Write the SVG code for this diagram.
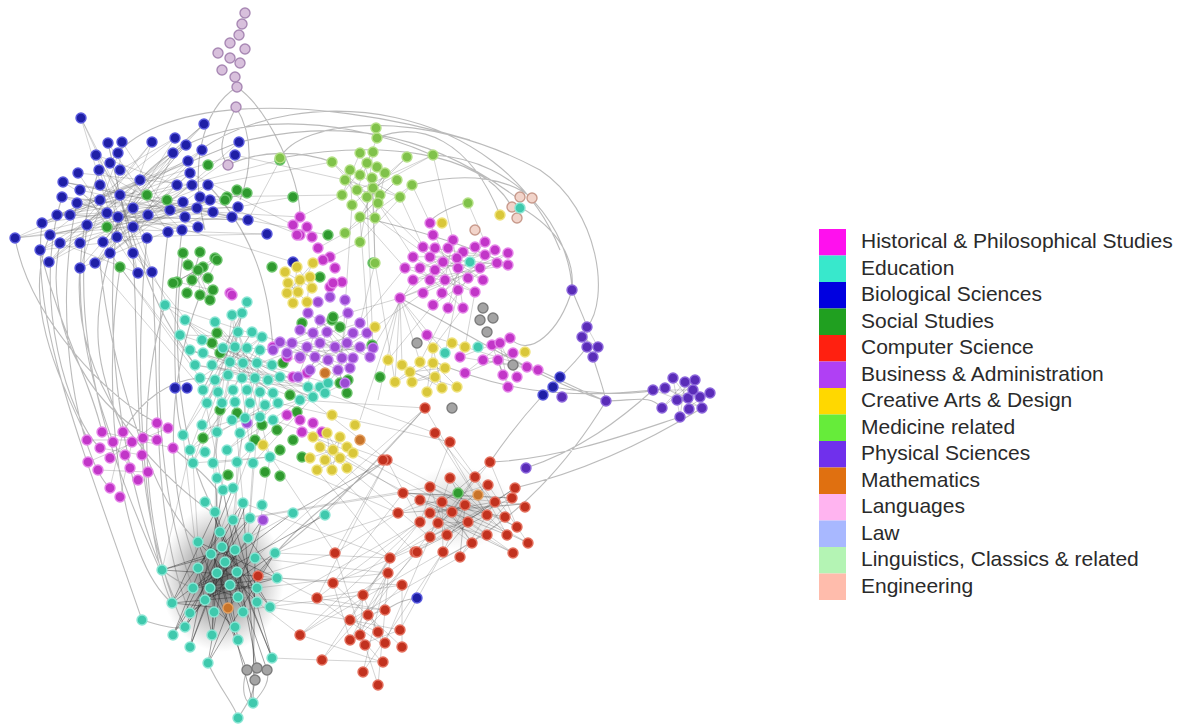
<svg xmlns="http://www.w3.org/2000/svg" width="1180" height="728" viewBox="0 0 1180 728">
<style>
circle{r:5px;stroke-width:1.4px}
.H{fill:#c236c8;stroke:#e482e8}.E{fill:#3fc9ad;stroke:#8ae6d4}.B{fill:#1f1fa6;stroke:#5a5ade}.S{fill:#2f9a2f;stroke:#6cc46c}
.C{fill:#c2321f;stroke:#e4705e}.U{fill:#9c4ad4;stroke:#c488ee}.Y{fill:#d9c73a;stroke:#efe27a}.M{fill:#80c24a;stroke:#b4e086}
.P{fill:#5a2cb8;stroke:#8c66dc}.O{fill:#c8742a;stroke:#e4a060}.L{fill:#d8c0dc;stroke:#a888b4}.N{fill:#f2d4ca;stroke:#c89a8c}.G{fill:#a4a4a4;stroke:#7c7c7c}
.e{fill:none;stroke:#6a6a6a;stroke-width:.7;opacity:.42}
.d{fill:none;stroke:#2a2a2a;stroke-width:.8;opacity:.55}
.a{fill:none;stroke:#8e8e8e;stroke-width:1.1;opacity:.6}
.lt{font-family:"Liberation Sans",Arial,sans-serif;font-size:21px;fill:#2a2a2a}
</style>
<defs>
<radialGradient id="hz"><stop offset="0" stop-color="#1a1a1a" stop-opacity=".7"/><stop offset=".6" stop-color="#333" stop-opacity=".3"/><stop offset="1" stop-color="#555" stop-opacity="0"/></radialGradient>
<radialGradient id="hl"><stop offset="0" stop-color="#444" stop-opacity=".28"/><stop offset="1" stop-color="#777" stop-opacity="0"/></radialGradient>
</defs>
<g id="connectors">
<ellipse cx="222" cy="578" rx="62" ry="74" fill="url(#hz)"/>
<ellipse cx="458" cy="508" rx="55" ry="42" fill="url(#hl)"/>
<path class="a" d="M236,107C225,130 215,150 228,165M236,107C250,130 255,160 240,200M237,87C200,110 190,170 205,230M237,87C270,110 300,180 300,215M228,165C260,150 300,150 332,162M140,180C200,110 330,110 432,155M240,142C330,120 420,125 520,200M280,158C380,140 480,150 512,207M433,155C520,160 570,230 572,290M520,207C560,230 575,260 572,290M572,290C580,310 585,320 587,327M593,357C600,380 604,390 606,401M606,401C640,400 650,395 662,408M526,468C580,450 620,420 653,390M490,462C560,460 640,430 680,417M515,488C590,470 650,440 702,408M440,560C520,520 570,460 606,401M430,360C500,390 560,400 653,390M400,298C480,340 540,380 606,401M543,395C520,420 505,440 490,462M553,387C600,395 640,395 665,388M538,370C560,380 590,395 606,401M60,243C40,330 100,420 160,440M100,263C110,360 150,500 198,542M133,253C140,360 130,500 175,600M152,272C160,380 150,520 190,613M120,267C100,400 120,560 172,603M80,268C70,380 150,470 213,513M183,253C170,350 180,450 215,512M200,295C160,400 170,500 198,568M165,305C130,420 150,560 185,627M173,448C200,470 210,480 217,490M162,570C175,580 185,585 193,588M142,620C160,625 175,630 185,627M253,703C265,690 270,680 267,670M238,718C250,700 255,690 255,678M123,432C140,400 170,380 200,378M417,598C400,600 395,605 385,610M468,202C440,210 430,220 430,223M412,185C470,170 510,180 532,198M377,138C420,120 470,140 500,215M360,217C420,230 480,250 508,265M572,290C560,330 530,360 510,338M587,347C570,370 555,380 543,395M387,460C330,500 290,530 258,576M425,408C380,460 320,520 275,553M280,158C300,120 420,105 540,170C600,210 610,300 587,327M110,163C150,100 300,90 470,140M200,150C300,80 500,100 560,250M50,235C20,300 60,380 88,440M40,250C60,330 90,380 102,432M15,238C30,320 110,400 157,423M247,670C240,690 245,705 253,703M208,663C220,690 235,705 238,718M62,197C30,300 70,420 100,448M77,203C50,320 80,460 110,488M87,225C70,360 120,480 160,570M118,217C100,350 130,500 162,570M147,238C130,400 150,560 172,603M168,232C150,380 160,500 193,588M182,230C170,330 175,420 183,435M99,170C60,280 90,380 113,442M42,223C30,320 80,440 142,620M120,195C150,300 170,330 195,365M110,253C90,330 95,360 123,432M208,185C260,240 270,300 273,350"/>
<path class="e" d="M81,118L120,195L42,223L183,202L63,182L232,217L15,238L140,180L100,263L239,142L57,215L177,185L96,155L147,238L40,250L208,185L110,253L122,142L80,268L213,212L62,197L168,232L108,143L133,253L78,173L192,185L49,262L152,142L87,225L204,124L118,217L248,220L70,215L198,227L99,170L138,273L60,243L186,145L103,242L210,200L50,235L175,138L120,170L182,230L77,203L235,155L117,237L190,173L95,263L202,150L133,208L152,272L80,190L170,210M110,215L81,118M110,215L15,238M110,215L49,262M110,215L204,124M110,215L238,207M110,215L152,272M140,230L63,182M140,230L267,234M140,230L95,263M140,230L173,153M90,200L42,223M90,200L188,161M90,200L138,273M160,200L248,220M160,200L57,215M160,200L122,142M120,210L293,262M130,200L280,160M150,220L247,193M100,230L227,197M15,238L213,212M42,223L239,142M40,250L202,150M49,262L204,124M57,215L238,207M62,197L248,220M63,182L232,217M80,268L186,145M95,263L175,138M110,253L152,142M138,273L108,143M152,272L81,118M133,253L96,155M117,237L267,234M80,243L210,200M60,243L197,208M87,225L192,185M70,215L190,173M50,235L183,202M103,242L173,153M238,207L293,197M248,220L280,160M232,217L328,235M213,212L300,217M200,197L342,195M208,185L332,162M235,155L345,180M210,200L300,235M190,173L293,225"/>
<path class="e" d="M183,253L213,290L177,282L215,258L187,293L200,252L192,280L203,267L173,283L217,260L208,278L188,265L210,300L198,270L200,295M377,138L357,190L332,162L378,203L360,153L342,195L373,152L367,197L407,157L352,205L350,170L400,197L345,180L375,218L385,173L360,217L397,180L345,233L412,185L360,242L372,178L375,263L373,188L433,155L357,190L380,195M430,223L458,290L423,247L485,255L413,257L475,292L405,268L497,263L400,298L508,253L433,305L485,242L420,268L463,308L453,240L442,293L495,250L413,280L508,265L430,257L483,280L435,248L468,278L448,308L463,252L423,293L480,268L443,262L400,298M653,390L702,408L665,388L688,398L673,378L680,417L685,382L662,408L695,380L677,400L710,393L687,408L693,390L653,390M587,327L598,347L582,337L593,357L587,347L587,327M308,313L370,357L300,330L353,358L320,320L298,377L360,323L273,350L348,313L338,370L280,342L373,348L287,353L367,333L310,370L327,332L350,368L292,343L345,383L313,333L342,358L307,347L360,347L315,357M285,272L312,288L297,267L293,303L313,263L287,293L310,277L307,302L288,283L298,292L300,280M402,365L442,388L420,362L395,382L433,363L457,387L410,372L445,368L412,382L435,377L427,392L433,348L442,388M427,335L538,370L460,357L510,338L465,373L513,353L483,360L527,367L492,345L503,375L498,360L508,387L500,343L517,377M412,185L430,223M400,197L423,247M378,203L413,257M468,203L485,242M433,155L453,240M400,298L348,313M405,268L360,323M413,280L373,348M423,293L375,327M433,305L388,360M448,308L420,362M463,308L433,348M458,290L445,353M475,292L465,347M273,350L247,348M280,342L252,332M287,353L260,363M300,357L272,365M298,377L280,377M310,370L308,387M338,370L328,383M345,383L325,393"/>
<path class="e" d="M165,305L273,393L202,340L325,393L190,350L280,377L195,365L308,387L200,378L262,337L203,390L247,302L207,403L252,332L183,435L238,332L193,463L270,457L213,463L242,313L217,432L278,403L227,450L320,387L237,462L255,378L190,450L265,405L232,315L250,447L260,350L202,430L300,400L212,365L313,397L253,463M280,377L387,460M300,400L425,408M325,393L435,433M313,437L403,493M340,458L420,500M353,453L442,502M347,468L430,537M332,470L415,552M317,470L390,558M263,445L335,553M273,420L387,460M270,457L398,513M278,403L450,442M360,242L330,257M375,263L360,323M360,217L405,268M375,218L430,257M378,203L423,247M345,233L318,248M342,195L300,217M367,197L373,348M360,217L370,357M375,263L395,382M352,205L340,382M400,298L402,365M400,298L420,362M400,298L433,348M400,298L395,382M400,298L445,353M400,298L378,400M400,298L360,420M133,253L202,340M152,272L190,350M120,267L195,365M110,253L200,378M95,263L203,390M102,432L173,448M123,432L110,488M87,440L157,440M88,462L168,428M98,470L148,472M100,448L142,455M113,442L138,480M132,442L120,497M157,423L110,458M313,437L353,453L317,470L340,437L332,470L327,433L347,468L320,447L340,458L333,450L310,458M165,305L262,337L180,335L272,365L185,320L268,380L215,322L255,378M202,340L278,403M190,350L313,397M242,313L203,390M247,302L190,450M232,315L213,463M238,332L270,457M262,337L193,463M212,343L308,387M220,353L328,383M217,333L300,400M203,390L223,490M218,392L215,512M233,390L243,503M247,390L233,520M260,392L250,518M273,393L220,532M193,463L198,542M213,463L222,547M237,462L235,550M253,463L248,538M270,457L255,558M227,450L213,553M190,450L162,570M183,435L198,568"/>
<path class="d" d="M223,490L190,647L243,503L172,603L215,512L272,658L233,520L173,635L250,518L198,568L220,532L257,602L198,542L277,578L248,538L185,627L222,547L270,607L235,550L162,570L213,553L253,703L255,558L190,613L275,553L208,663L225,562L238,640L198,568L212,635L217,573L243,610L237,572L193,588L277,578L205,598L230,585L257,588L210,588L238,597L172,603L212,607L235,627L213,553M217,490L212,635M233,488L173,635M245,507L190,647M213,513L272,658M293,513L172,603M325,515L193,588M262,520L185,627M263,520L208,663M258,576L162,570M228,608L275,553M247,670L198,542M257,668L223,490M267,670L213,513M255,678L243,503"/>
<path class="e" d="M258,576L335,553M258,576L333,583M277,578L317,598M270,607L350,620M257,602L300,635M272,658L322,660M243,610L363,595M255,558L387,573M275,553L390,558M277,578L402,585M238,597L385,610M248,538L387,460M255,558L425,408M250,518L403,493M275,553L398,513M270,607L420,522M233,520L430,487M257,588L388,573M243,503L390,558M425,408L487,515L435,433L505,517L450,442L420,522L387,460L517,527L490,462L430,537L450,478L507,535L475,477L415,552L515,488L447,535L430,487L528,543L488,485L398,513L420,500L513,553L442,502L443,552L465,505L390,558L495,502L460,557L512,498L403,493L523,504L430,513L472,543L452,512L487,535L438,523L468,522M335,553L378,685L390,557L322,660L417,552L300,635L443,552L363,672L387,573L350,640L333,583L402,647L402,585L317,598L383,645L363,595L360,635L385,610L368,615L378,632L350,620L400,630L365,643L382,662L300,635M300,635L420,522M317,598L430,513M333,583L447,535M350,620L460,557M322,660L383,662M293,513L387,460M325,515L425,408M398,513L335,553M403,493L333,583M420,522L363,595M415,552L368,615M390,558L350,620M388,573L360,635M402,585L350,640M385,610L317,598M430,537L385,643M443,552L400,630M387,460L335,553M387,460L317,598"/>
<path class="d" style="opacity:.35" d="M403,493L512,498M398,513L523,504M420,500L505,517M430,487L517,527M442,502L528,543M430,513L495,502M438,523L488,485M452,512L475,477M465,505L450,478M420,522L490,462M447,535L515,488M430,537L512,498M415,552L487,515M443,552L468,522M460,557L465,505M472,543L442,502M513,553L430,513M507,535L420,500"/>
</g>
<g id="nodes-languages">
<circle class="L" cx="245" cy="13"/><circle class="L" cx="242" cy="24"/><circle class="L" cx="239" cy="35"/><circle class="L" cx="230" cy="43"/><circle class="L" cx="245" cy="49"/><circle class="L" cx="218" cy="53"/><circle class="L" cx="230" cy="58"/><circle class="L" cx="240" cy="63"/><circle class="L" cx="222" cy="70"/><circle class="L" cx="235" cy="77"/><circle class="L" cx="237" cy="87"/><circle class="L" cx="236" cy="107"/><circle class="L" cx="228" cy="165"/>
</g>
<g id="nodes-biological">
<circle class="B" cx="81" cy="118"/><circle class="B" cx="204" cy="124"/><circle class="B" cx="108" cy="143"/><circle class="B" cx="122" cy="142"/><circle class="B" cx="152" cy="142"/><circle class="B" cx="175" cy="138"/><circle class="B" cx="186" cy="145"/><circle class="B" cx="202" cy="150"/><circle class="B" cx="239" cy="142"/><circle class="B" cx="235" cy="155"/><circle class="B" cx="96" cy="155"/><circle class="B" cx="118" cy="153"/><circle class="B" cx="173" cy="153"/><circle class="B" cx="110" cy="163"/><circle class="B" cx="188" cy="161"/><circle class="B" cx="99" cy="170"/><circle class="B" cx="120" cy="170"/><circle class="B" cx="78" cy="173"/><circle class="B" cx="190" cy="173"/><circle class="B" cx="140" cy="180"/><circle class="B" cx="63" cy="182"/><circle class="B" cx="100" cy="185"/><circle class="B" cx="177" cy="185"/><circle class="B" cx="192" cy="185"/><circle class="B" cx="208" cy="185"/><circle class="B" cx="80" cy="190"/><circle class="B" cx="120" cy="195"/><circle class="B" cx="62" cy="197"/><circle class="B" cx="200" cy="197"/><circle class="B" cx="210" cy="200"/><circle class="B" cx="183" cy="202"/><circle class="B" cx="77" cy="203"/><circle class="B" cx="100" cy="200"/><circle class="B" cx="133" cy="208"/><circle class="B" cx="170" cy="210"/><circle class="B" cx="197" cy="208"/><circle class="B" cx="213" cy="212"/><circle class="B" cx="238" cy="207"/><circle class="B" cx="57" cy="215"/><circle class="B" cx="70" cy="215"/><circle class="B" cx="107" cy="213"/><circle class="B" cx="118" cy="217"/><circle class="B" cx="148" cy="215"/><circle class="B" cx="185" cy="217"/><circle class="B" cx="232" cy="217"/><circle class="B" cx="248" cy="220"/><circle class="B" cx="42" cy="223"/><circle class="B" cx="87" cy="225"/><circle class="B" cx="133" cy="227"/><circle class="B" cx="168" cy="232"/><circle class="B" cx="182" cy="230"/><circle class="B" cx="198" cy="227"/><circle class="B" cx="15" cy="238"/><circle class="B" cx="50" cy="235"/><circle class="B" cx="60" cy="243"/><circle class="B" cx="80" cy="243"/><circle class="B" cx="103" cy="242"/><circle class="B" cx="117" cy="237"/><circle class="B" cx="147" cy="238"/><circle class="B" cx="267" cy="234"/><circle class="B" cx="40" cy="250"/><circle class="B" cx="110" cy="253"/><circle class="B" cx="133" cy="253"/><circle class="B" cx="49" cy="262"/><circle class="B" cx="95" cy="263"/><circle class="B" cx="80" cy="268"/><circle class="B" cx="138" cy="273"/><circle class="B" cx="152" cy="272"/><circle class="B" cx="293" cy="262"/><circle class="B" cx="175" cy="388"/><circle class="B" cx="187" cy="388"/><circle class="B" cx="417" cy="598"/><circle class="B" cx="560" cy="377"/><circle class="B" cx="553" cy="387"/><circle class="B" cx="543" cy="395"/>
</g>
<g id="nodes-social">
<circle class="S" cx="107" cy="227"/><circle class="S" cx="147" cy="195"/><circle class="S" cx="167" cy="200"/><circle class="S" cx="208" cy="165"/><circle class="S" cx="227" cy="197"/><circle class="S" cx="247" cy="193"/><circle class="S" cx="280" cy="160"/><circle class="S" cx="293" cy="197"/><circle class="S" cx="120" cy="267"/><circle class="S" cx="272" cy="267"/><circle class="S" cx="183" cy="253"/><circle class="S" cx="200" cy="252"/><circle class="S" cx="215" cy="258"/><circle class="S" cx="188" cy="265"/><circle class="S" cx="203" cy="267"/><circle class="S" cx="177" cy="282"/><circle class="S" cx="192" cy="280"/><circle class="S" cx="208" cy="278"/><circle class="S" cx="187" cy="293"/><circle class="S" cx="200" cy="295"/><circle class="S" cx="213" cy="290"/><circle class="S" cx="173" cy="283"/><circle class="S" cx="198" cy="270"/><circle class="S" cx="217" cy="260"/><circle class="S" cx="210" cy="300"/><circle class="S" cx="225" cy="200"/><circle class="S" cx="237" cy="190"/><circle class="S" cx="217" cy="333"/><circle class="S" cx="212" cy="343"/><circle class="S" cx="220" cy="353"/><circle class="S" cx="302" cy="323"/><circle class="S" cx="332" cy="320"/><circle class="S" cx="340" cy="327"/><circle class="S" cx="340" cy="383"/><circle class="S" cx="348" cy="380"/><circle class="S" cx="347" cy="393"/><circle class="S" cx="373" cy="263"/><circle class="S" cx="283" cy="363"/><circle class="S" cx="220" cy="410"/><circle class="S" cx="237" cy="413"/><circle class="S" cx="277" cy="430"/><circle class="S" cx="280" cy="450"/><circle class="S" cx="293" cy="440"/><circle class="S" cx="302" cy="457"/><circle class="S" cx="203" cy="438"/><circle class="S" cx="328" cy="235"/><circle class="S" cx="333" cy="317"/><circle class="S" cx="372" cy="345"/><circle class="S" cx="380" cy="377"/><circle class="S" cx="320" cy="277"/><circle class="S" cx="458" cy="493"/><circle class="S" cx="262" cy="425"/><circle class="S" cx="255" cy="440"/><circle class="S" cx="290" cy="395"/><circle class="S" cx="297" cy="412"/><circle class="S" cx="265" cy="472"/><circle class="S" cx="280" cy="476"/><circle class="S" cx="228" cy="475"/>
</g>
<g id="nodes-medicine">
<circle class="M" cx="377" cy="138"/><circle class="M" cx="332" cy="162"/><circle class="M" cx="360" cy="153"/><circle class="M" cx="373" cy="152"/><circle class="M" cx="367" cy="163"/><circle class="M" cx="407" cy="157"/><circle class="M" cx="433" cy="155"/><circle class="M" cx="350" cy="170"/><circle class="M" cx="377" cy="167"/><circle class="M" cx="360" cy="175"/><circle class="M" cx="345" cy="180"/><circle class="M" cx="372" cy="178"/><circle class="M" cx="385" cy="173"/><circle class="M" cx="397" cy="180"/><circle class="M" cx="412" cy="185"/><circle class="M" cx="357" cy="190"/><circle class="M" cx="373" cy="188"/><circle class="M" cx="342" cy="195"/><circle class="M" cx="367" cy="197"/><circle class="M" cx="380" cy="195"/><circle class="M" cx="400" cy="197"/><circle class="M" cx="352" cy="205"/><circle class="M" cx="378" cy="203"/><circle class="M" cx="360" cy="217"/><circle class="M" cx="375" cy="218"/><circle class="M" cx="468" cy="203"/><circle class="M" cx="360" cy="242"/><circle class="M" cx="375" cy="263"/><circle class="M" cx="345" cy="233"/><circle class="M" cx="376" cy="128"/><circle class="M" cx="280" cy="158"/>
</g>
<g id="nodes-historical">
<circle class="H" cx="430" cy="223"/><circle class="H" cx="433" cy="235"/><circle class="H" cx="453" cy="240"/><circle class="H" cx="485" cy="242"/><circle class="H" cx="423" cy="247"/><circle class="H" cx="435" cy="248"/><circle class="H" cx="448" cy="248"/><circle class="H" cx="463" cy="252"/><circle class="H" cx="475" cy="247"/><circle class="H" cx="495" cy="250"/><circle class="H" cx="508" cy="253"/><circle class="H" cx="413" cy="257"/><circle class="H" cx="430" cy="257"/><circle class="H" cx="443" cy="262"/><circle class="H" cx="457" cy="258"/><circle class="H" cx="485" cy="255"/><circle class="H" cx="497" cy="263"/><circle class="H" cx="508" cy="265"/><circle class="H" cx="405" cy="268"/><circle class="H" cx="420" cy="268"/><circle class="H" cx="435" cy="270"/><circle class="H" cx="458" cy="268"/><circle class="H" cx="480" cy="268"/><circle class="H" cx="413" cy="280"/><circle class="H" cx="430" cy="280"/><circle class="H" cx="445" cy="280"/><circle class="H" cx="468" cy="278"/><circle class="H" cx="483" cy="280"/><circle class="H" cx="423" cy="293"/><circle class="H" cx="442" cy="293"/><circle class="H" cx="458" cy="290"/><circle class="H" cx="475" cy="292"/><circle class="H" cx="400" cy="298"/><circle class="H" cx="433" cy="305"/><circle class="H" cx="448" cy="308"/><circle class="H" cx="463" cy="308"/>
<circle class="H" cx="427" cy="335"/><circle class="H" cx="510" cy="338"/><circle class="H" cx="492" cy="345"/><circle class="H" cx="500" cy="343"/><circle class="H" cx="460" cy="357"/><circle class="H" cx="483" cy="360"/><circle class="H" cx="498" cy="360"/><circle class="H" cx="513" cy="353"/><circle class="H" cx="527" cy="367"/><circle class="H" cx="538" cy="370"/><circle class="H" cx="465" cy="373"/><circle class="H" cx="503" cy="375"/><circle class="H" cx="517" cy="377"/><circle class="H" cx="508" cy="387"/>
<circle class="H" cx="300" cy="217"/><circle class="H" cx="293" cy="225"/><circle class="H" cx="307" cy="227"/><circle class="H" cx="300" cy="235"/><circle class="H" cx="312" cy="237"/><circle class="H" cx="318" cy="248"/><circle class="H" cx="330" cy="257"/><circle class="H" cx="335" cy="268"/><circle class="H" cx="342" cy="282"/><circle class="H" cx="330" cy="287"/><circle class="H" cx="230" cy="293"/><circle class="H" cx="297" cy="235"/><circle class="H" cx="232" cy="295"/><circle class="H" cx="333" cy="283"/><circle class="H" cx="323" cy="260"/><circle class="H" cx="273" cy="347"/><circle class="H" cx="287" cy="357"/><circle class="H" cx="300" cy="358"/><circle class="H" cx="293" cy="377"/><circle class="H" cx="307" cy="373"/><circle class="H" cx="287" cy="415"/><circle class="H" cx="300" cy="420"/><circle class="H" cx="313" cy="423"/><circle class="H" cx="322" cy="432"/><circle class="H" cx="302" cy="432"/>
<circle class="H" cx="102" cy="432"/><circle class="H" cx="123" cy="432"/><circle class="H" cx="157" cy="423"/><circle class="H" cx="168" cy="428"/><circle class="H" cx="87" cy="440"/><circle class="H" cx="113" cy="442"/><circle class="H" cx="132" cy="442"/><circle class="H" cx="143" cy="438"/><circle class="H" cx="157" cy="440"/><circle class="H" cx="100" cy="448"/><circle class="H" cx="173" cy="448"/><circle class="H" cx="110" cy="458"/><circle class="H" cx="125" cy="455"/><circle class="H" cx="142" cy="455"/><circle class="H" cx="88" cy="462"/><circle class="H" cx="98" cy="470"/><circle class="H" cx="130" cy="468"/><circle class="H" cx="148" cy="472"/><circle class="H" cx="138" cy="480"/><circle class="H" cx="110" cy="488"/><circle class="H" cx="120" cy="497"/>
</g>
<g id="nodes-business">
<circle class="U" cx="308" cy="313"/><circle class="U" cx="320" cy="320"/><circle class="U" cx="348" cy="313"/><circle class="U" cx="360" cy="323"/><circle class="U" cx="300" cy="330"/><circle class="U" cx="313" cy="333"/><circle class="U" cx="327" cy="332"/><circle class="U" cx="353" cy="333"/><circle class="U" cx="367" cy="333"/><circle class="U" cx="280" cy="342"/><circle class="U" cx="292" cy="343"/><circle class="U" cx="307" cy="347"/><circle class="U" cx="320" cy="343"/><circle class="U" cx="335" cy="347"/><circle class="U" cx="347" cy="343"/><circle class="U" cx="360" cy="347"/><circle class="U" cx="373" cy="348"/><circle class="U" cx="273" cy="350"/><circle class="U" cx="287" cy="353"/><circle class="U" cx="300" cy="357"/><circle class="U" cx="315" cy="357"/><circle class="U" cx="328" cy="360"/><circle class="U" cx="342" cy="358"/><circle class="U" cx="353" cy="358"/><circle class="U" cx="370" cy="357"/><circle class="U" cx="310" cy="370"/><circle class="U" cx="338" cy="370"/><circle class="U" cx="350" cy="368"/><circle class="U" cx="298" cy="377"/><circle class="U" cx="345" cy="383"/><circle class="U" cx="247" cy="423"/><circle class="U" cx="263" cy="520"/><circle class="U" cx="330" cy="297"/><circle class="U" cx="345" cy="300"/><circle class="U" cx="318" cy="302"/>
</g>
<g id="nodes-creative">
<circle class="Y" cx="442" cy="223"/><circle class="Y" cx="285" cy="272"/><circle class="Y" cx="297" cy="267"/><circle class="Y" cx="313" cy="263"/><circle class="Y" cx="288" cy="283"/><circle class="Y" cx="300" cy="280"/><circle class="Y" cx="310" cy="277"/><circle class="Y" cx="287" cy="293"/><circle class="Y" cx="298" cy="292"/><circle class="Y" cx="312" cy="288"/><circle class="Y" cx="293" cy="303"/><circle class="Y" cx="307" cy="302"/><circle class="Y" cx="375" cy="327"/><circle class="Y" cx="500" cy="215"/><circle class="Y" cx="452" cy="343"/><circle class="Y" cx="465" cy="347"/><circle class="Y" cx="525" cy="352"/><circle class="Y" cx="433" cy="348"/><circle class="Y" cx="402" cy="365"/><circle class="Y" cx="420" cy="362"/><circle class="Y" cx="433" cy="363"/><circle class="Y" cx="445" cy="368"/><circle class="Y" cx="410" cy="372"/><circle class="Y" cx="435" cy="377"/><circle class="Y" cx="395" cy="382"/><circle class="Y" cx="412" cy="382"/><circle class="Y" cx="442" cy="388"/><circle class="Y" cx="457" cy="387"/><circle class="Y" cx="427" cy="392"/><circle class="Y" cx="313" cy="437"/><circle class="Y" cx="327" cy="433"/><circle class="Y" cx="340" cy="437"/><circle class="Y" cx="320" cy="447"/><circle class="Y" cx="333" cy="450"/><circle class="Y" cx="347" cy="447"/><circle class="Y" cx="310" cy="458"/><circle class="Y" cx="325" cy="460"/><circle class="Y" cx="340" cy="458"/><circle class="Y" cx="353" cy="453"/><circle class="Y" cx="317" cy="470"/><circle class="Y" cx="332" cy="470"/><circle class="Y" cx="347" cy="468"/><circle class="Y" cx="263" cy="445"/><circle class="Y" cx="355" cy="425"/><circle class="Y" cx="332" cy="415"/><circle class="Y" cx="388" cy="360"/>
</g>
<g id="nodes-education">
<circle class="E" cx="165" cy="305"/><circle class="E" cx="247" cy="302"/><circle class="E" cx="232" cy="315"/><circle class="E" cx="242" cy="313"/><circle class="E" cx="202" cy="340"/><circle class="E" cx="238" cy="332"/><circle class="E" cx="252" cy="332"/><circle class="E" cx="262" cy="337"/><circle class="E" cx="190" cy="350"/><circle class="E" cx="203" cy="353"/><circle class="E" cx="223" cy="348"/><circle class="E" cx="235" cy="347"/><circle class="E" cx="247" cy="348"/><circle class="E" cx="260" cy="350"/><circle class="E" cx="195" cy="365"/><circle class="E" cx="212" cy="365"/><circle class="E" cx="230" cy="362"/><circle class="E" cx="243" cy="363"/><circle class="E" cx="257" cy="363"/><circle class="E" cx="272" cy="365"/><circle class="E" cx="200" cy="378"/><circle class="E" cx="215" cy="380"/><circle class="E" cx="228" cy="375"/><circle class="E" cx="242" cy="378"/><circle class="E" cx="255" cy="378"/><circle class="E" cx="268" cy="380"/><circle class="E" cx="280" cy="377"/><circle class="E" cx="203" cy="390"/><circle class="E" cx="218" cy="392"/><circle class="E" cx="233" cy="390"/><circle class="E" cx="247" cy="390"/><circle class="E" cx="260" cy="392"/><circle class="E" cx="273" cy="393"/><circle class="E" cx="308" cy="387"/><circle class="E" cx="320" cy="387"/><circle class="E" cx="328" cy="383"/><circle class="E" cx="207" cy="403"/><circle class="E" cx="222" cy="403"/><circle class="E" cx="235" cy="402"/><circle class="E" cx="250" cy="403"/><circle class="E" cx="265" cy="405"/><circle class="E" cx="278" cy="403"/><circle class="E" cx="300" cy="400"/><circle class="E" cx="313" cy="397"/><circle class="E" cx="325" cy="393"/><circle class="E" cx="232" cy="420"/><circle class="E" cx="245" cy="418"/><circle class="E" cx="260" cy="417"/><circle class="E" cx="273" cy="420"/><circle class="E" cx="183" cy="435"/><circle class="E" cx="202" cy="425"/><circle class="E" cx="217" cy="432"/><circle class="E" cx="240" cy="433"/><circle class="E" cx="190" cy="450"/><circle class="E" cx="205" cy="452"/><circle class="E" cx="227" cy="450"/><circle class="E" cx="250" cy="447"/><circle class="E" cx="193" cy="463"/><circle class="E" cx="213" cy="463"/><circle class="E" cx="237" cy="462"/><circle class="E" cx="253" cy="463"/><circle class="E" cx="270" cy="457"/><circle class="E" cx="185" cy="320"/><circle class="E" cx="215" cy="322"/><circle class="E" cx="180" cy="335"/><circle class="E" cx="478" cy="347"/><circle class="E" cx="445" cy="353"/><circle class="E" cx="470" cy="262"/>
<circle class="E" cx="223" cy="490"/><circle class="E" cx="243" cy="503"/><circle class="E" cx="215" cy="512"/><circle class="E" cx="233" cy="520"/><circle class="E" cx="250" cy="518"/><circle class="E" cx="220" cy="532"/><circle class="E" cx="198" cy="542"/><circle class="E" cx="248" cy="538"/><circle class="E" cx="222" cy="547"/><circle class="E" cx="235" cy="550"/><circle class="E" cx="211" cy="554"/><circle class="E" cx="255" cy="558"/><circle class="E" cx="275" cy="553"/><circle class="E" cx="225" cy="562"/><circle class="E" cx="198" cy="568"/><circle class="E" cx="217" cy="573"/><circle class="E" cx="237" cy="572"/><circle class="E" cx="162" cy="570"/><circle class="E" cx="277" cy="578"/><circle class="E" cx="230" cy="585"/><circle class="E" cx="193" cy="588"/><circle class="E" cx="210" cy="588"/><circle class="E" cx="257" cy="588"/><circle class="E" cx="205" cy="600"/><circle class="E" cx="238" cy="597"/><circle class="E" cx="257" cy="602"/><circle class="E" cx="172" cy="603"/><circle class="E" cx="190" cy="613"/><circle class="E" cx="214" cy="612"/><circle class="E" cx="243" cy="612"/><circle class="E" cx="270" cy="607"/><circle class="E" cx="185" cy="627"/><circle class="E" cx="235" cy="627"/><circle class="E" cx="173" cy="635"/><circle class="E" cx="212" cy="635"/><circle class="E" cx="238" cy="640"/><circle class="E" cx="190" cy="647"/><circle class="E" cx="272" cy="658"/><circle class="E" cx="208" cy="663"/><circle class="E" cx="253" cy="703"/><circle class="E" cx="238" cy="718"/><circle class="E" cx="217" cy="478"/><circle class="E" cx="233" cy="488"/><circle class="E" cx="205" cy="502"/><circle class="E" cx="262" cy="505"/><circle class="E" cx="293" cy="513"/><circle class="E" cx="325" cy="515"/><circle class="E" cx="142" cy="620"/>
</g>
<g id="nodes-physical">
<circle class="P" cx="572" cy="290"/><circle class="P" cx="587" cy="327"/><circle class="P" cx="582" cy="337"/><circle class="P" cx="587" cy="347"/><circle class="P" cx="598" cy="347"/><circle class="P" cx="593" cy="357"/><circle class="P" cx="562" cy="397"/><circle class="P" cx="606" cy="401"/><circle class="P" cx="653" cy="390"/><circle class="P" cx="665" cy="388"/><circle class="P" cx="673" cy="378"/><circle class="P" cx="685" cy="382"/><circle class="P" cx="695" cy="380"/><circle class="P" cx="710" cy="393"/><circle class="P" cx="677" cy="400"/><circle class="P" cx="688" cy="398"/><circle class="P" cx="700" cy="397"/><circle class="P" cx="662" cy="408"/><circle class="P" cx="680" cy="417"/><circle class="P" cx="702" cy="408"/><circle class="P" cx="689" cy="409"/><circle class="P" cx="693" cy="390"/><circle class="P" cx="526" cy="468"/>
</g>
<g id="nodes-cs">
<circle class="C" cx="425" cy="408"/><circle class="C" cx="435" cy="433"/><circle class="C" cx="450" cy="442"/><circle class="C" cx="387" cy="460"/><circle class="C" cx="490" cy="462"/><circle class="C" cx="450" cy="478"/><circle class="C" cx="475" cy="477"/><circle class="C" cx="515" cy="488"/><circle class="C" cx="430" cy="487"/><circle class="C" cx="488" cy="485"/><circle class="C" cx="403" cy="493"/><circle class="C" cx="420" cy="500"/><circle class="C" cx="442" cy="502"/><circle class="C" cx="465" cy="505"/><circle class="C" cx="495" cy="502"/><circle class="C" cx="512" cy="498"/><circle class="C" cx="525" cy="507"/><circle class="C" cx="398" cy="513"/><circle class="C" cx="430" cy="513"/><circle class="C" cx="452" cy="512"/><circle class="C" cx="487" cy="515"/><circle class="C" cx="505" cy="517"/><circle class="C" cx="420" cy="522"/><circle class="C" cx="438" cy="523"/><circle class="C" cx="468" cy="522"/><circle class="C" cx="517" cy="527"/><circle class="C" cx="430" cy="537"/><circle class="C" cx="447" cy="535"/><circle class="C" cx="487" cy="535"/><circle class="C" cx="507" cy="535"/><circle class="C" cx="415" cy="552"/><circle class="C" cx="443" cy="552"/><circle class="C" cx="472" cy="543"/><circle class="C" cx="460" cy="557"/><circle class="C" cx="513" cy="553"/><circle class="C" cx="528" cy="543"/><circle class="C" cx="390" cy="558"/><circle class="C" cx="388" cy="573"/><circle class="C" cx="402" cy="585"/><circle class="C" cx="385" cy="610"/><circle class="C" cx="400" cy="630"/><circle class="C" cx="385" cy="643"/><circle class="C" cx="402" cy="647"/><circle class="C" cx="383" cy="662"/><circle class="C" cx="335" cy="553"/><circle class="C" cx="417" cy="552"/><circle class="C" cx="333" cy="583"/><circle class="C" cx="317" cy="598"/><circle class="C" cx="363" cy="595"/><circle class="C" cx="368" cy="615"/><circle class="C" cx="350" cy="620"/><circle class="C" cx="378" cy="632"/><circle class="C" cx="360" cy="635"/><circle class="C" cx="300" cy="635"/><circle class="C" cx="350" cy="640"/><circle class="C" cx="365" cy="645"/><circle class="C" cx="322" cy="660"/><circle class="C" cx="363" cy="672"/><circle class="C" cx="378" cy="685"/><circle class="C" cx="258" cy="576"/><circle class="C" cx="383" cy="460"/>
</g>
<g id="nodes-other">
<circle class="O" cx="478" cy="495"/><circle class="O" cx="228" cy="608"/><circle class="O" cx="325" cy="373"/><circle class="O" cx="360" cy="440"/>
<circle class="G" cx="483" cy="308"/><circle class="G" cx="480" cy="320"/><circle class="G" cx="493" cy="318"/><circle class="G" cx="487" cy="332"/><circle class="G" cx="417" cy="343"/><circle class="G" cx="513" cy="365"/><circle class="G" cx="452" cy="408"/><circle class="G" cx="247" cy="670"/><circle class="G" cx="257" cy="668"/><circle class="G" cx="267" cy="670"/><circle class="G" cx="255" cy="680"/>
<circle class="N" cx="520" cy="197"/><circle class="N" cx="532" cy="198"/><circle class="N" cx="512" cy="207"/><circle class="N" cx="517" cy="218"/><circle class="N" cx="475" cy="230"/>
<circle class="E" cx="520" cy="208"/>
</g>
<g id="legend">
<rect x="819" y="229" width="27" height="26.5" fill="#ff10ee"/>
<rect x="819" y="255.5" width="27" height="26.5" fill="#38e8cc"/>
<rect x="819" y="282" width="27" height="26.5" fill="#0000e0"/>
<rect x="819" y="308.5" width="27" height="26.5" fill="#20a020"/>
<rect x="819" y="335" width="27" height="26.5" fill="#ff2010"/>
<rect x="819" y="361.5" width="27" height="26.5" fill="#b040f4"/>
<rect x="819" y="388" width="27" height="26.5" fill="#ffd800"/>
<rect x="819" y="414.5" width="27" height="26.5" fill="#66ec3a"/>
<rect x="819" y="441" width="27" height="26.5" fill="#7030ec"/>
<rect x="819" y="467.5" width="27" height="26.5" fill="#e07010"/>
<rect x="819" y="494" width="27" height="26.5" fill="#ffb4f0"/>
<rect x="819" y="520.5" width="27" height="26.5" fill="#a8b8ff"/>
<rect x="819" y="547" width="27" height="26.5" fill="#b4f4b4"/>
<rect x="819" y="573.5" width="27" height="26.5" fill="#ffbcac"/>
<text class="lt" x="861" y="248">Historical &amp; Philosophical Studies</text>
<text class="lt" x="861" y="274.5">Education</text>
<text class="lt" x="861" y="301">Biological Sciences</text>
<text class="lt" x="861" y="327.5">Social Studies</text>
<text class="lt" x="861" y="354">Computer Science</text>
<text class="lt" x="861" y="380.5">Business &amp; Administration</text>
<text class="lt" x="861" y="407">Creative Arts &amp; Design</text>
<text class="lt" x="861" y="433.5">Medicine related</text>
<text class="lt" x="861" y="460">Physical Sciences</text>
<text class="lt" x="861" y="486.5">Mathematics</text>
<text class="lt" x="861" y="513">Languages</text>
<text class="lt" x="861" y="539.5">Law</text>
<text class="lt" x="861" y="566">Linguistics, Classics &amp; related</text>
<text class="lt" x="861" y="592.5">Engineering</text>
</g>
</svg>
